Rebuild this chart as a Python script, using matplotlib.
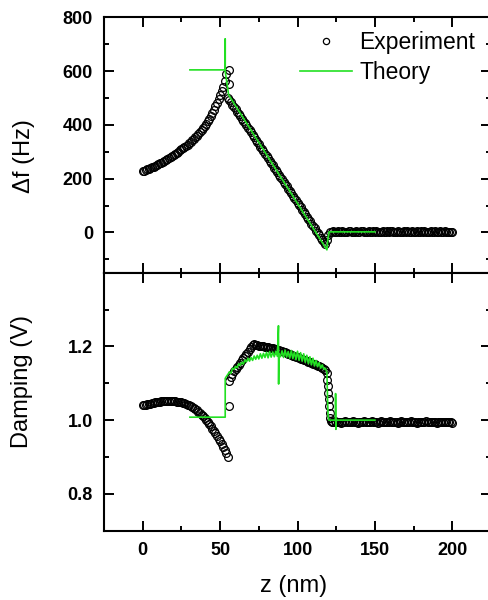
import numpy as np
import matplotlib
matplotlib.use('Agg')
import matplotlib.pyplot as plt
from matplotlib.ticker import MultipleLocator, FixedLocator, FormatStrFormatter

plt.rcParams['font.family'] = ['Liberation Sans', 'DejaVu Sans']

# ---- top panel: frequency shift (Hz) ----
# rising part, z = 0..54 nm
exp_z1 = list(range(0, 55))
exp_df1 = [228, 230, 232, 235, 237, 240, 243, 245, 248, 251,
           254, 257, 260, 263, 266, 270, 274, 277, 281, 285,
           289, 293, 297, 301, 305, 309, 314, 318, 323, 327,
           332, 337, 343, 348, 354, 360, 366, 373, 380, 387,
           395, 404, 413, 423, 434, 445, 457, 469, 482, 496,
           510, 526, 543, 565, 590]
exp_z_jump = [55.5, 56.0]
exp_df_jump = [605, 553]
# falling part, z = 55..118 nm
exp_z2 = list(range(55, 119))
exp_df2 = [502, 493, 485, 476, 467, 459, 450, 441, 432, 424,
           415, 406, 398, 389, 380, 372, 363, 354, 345, 337,
           328, 319, 311, 302, 293, 285, 276, 267, 258, 250,
           241, 232, 224, 215, 206, 198, 189, 180, 171, 163,
           154, 145, 137, 128, 119, 111, 102, 93, 84, 76,
           67, 58, 50, 41, 32, 24, 15, 6, -2, -11,
           -20, -28, -37, -44]
# flat part, z = 119..200 nm
exp_z3 = list(range(119, 201))
exp_df3 = [-28, -8, 2, 3, 4, 2, 3, 5, 3, 2,
           4, 3, 3, 2, 4, 5, 3, 2, 3, 4,
           2, 3, 5, 4, 3, 2, 3, 4, 3, 2,
           4, 3, 5, 3, 2, 3, 4, 3, 2, 4,
           3, 5, 4, 3, 2, 3, 4, 3, 3, 2,
           4, 3, 5, 3, 2, 4, 3, 3, 4, 2,
           3, 4, 3, 5, 3, 2, 3, 4, 3, 2,
           4, 3, 3, 4, 2, 3, 4, 3, 3, 2,
           3, 3]

th_z_top = [30.5, 53.3, 53.3, 53.3, 55.5, 119.0, 119.6, 120.4, 150.0]
th_df_top = [605, 605, 720, 600, 512, -65, -25, 2, 2]

# ---- bottom panel: damping (V) ----
dmp_z1 = list(range(0, 56))
dmp_v1 = [1.040, 1.041, 1.042, 1.043, 1.044, 1.045, 1.046, 1.047, 1.048, 1.049,
          1.050, 1.050, 1.051, 1.051, 1.052, 1.052, 1.052, 1.052, 1.052, 1.052,
          1.051, 1.051, 1.050, 1.050, 1.049, 1.048, 1.047, 1.046, 1.044, 1.042,
          1.040, 1.038, 1.035, 1.033, 1.030, 1.027, 1.023, 1.019, 1.015, 1.011,
          1.006, 1.001, 0.995, 0.989, 0.983, 0.977, 0.970, 0.964, 0.957, 0.950,
          0.943, 0.936, 0.928, 0.920, 0.912, 0.901]
dmp_z_jump = [55.6]
dmp_v_jump = [1.037]
dmp_z2 = list(range(56, 119))
dmp_v2 = [1.107, 1.118, 1.126, 1.133, 1.139, 1.145, 1.150, 1.156, 1.162, 1.168,
          1.174, 1.180, 1.186, 1.192, 1.198, 1.204, 1.207, 1.205, 1.203, 1.202,
          1.201, 1.200, 1.200, 1.199, 1.199, 1.198, 1.197, 1.196, 1.195, 1.194,
          1.192, 1.191, 1.190, 1.188, 1.187, 1.185, 1.184, 1.182, 1.180, 1.179,
          1.177, 1.175, 1.173, 1.172, 1.170, 1.168, 1.166, 1.165, 1.163, 1.162,
          1.160, 1.158, 1.157, 1.155, 1.153, 1.152, 1.150, 1.148, 1.146, 1.144,
          1.142, 1.139, 1.136]
dmp_z3 = [119, 119.3, 119.6, 119.9, 120.2, 120.5, 120.8, 121.2, 121.6]
dmp_v3 = [1.128, 1.110, 1.092, 1.074, 1.056, 1.038, 1.020, 1.006, 0.998]
dmp_z4 = list(range(122, 201))
dmp_v4 = [0.996, 0.995, 0.997, 0.994, 0.996, 0.995, 0.993, 0.996, 0.995, 0.997,
          0.994, 0.995, 0.996, 0.994, 0.997, 0.995, 0.996, 0.993, 0.995, 0.996,
          0.994, 0.997, 0.995, 0.994, 0.996, 0.995, 0.997, 0.994, 0.995, 0.996,
          0.993, 0.995, 0.997, 0.996, 0.994, 0.995, 0.996, 0.994, 0.997, 0.995,
          0.994, 0.996, 0.995, 0.993, 0.996, 0.997, 0.994, 0.995, 0.996, 0.994,
          0.995, 0.997, 0.994, 0.996, 0.995, 0.993, 0.996, 0.995, 0.994, 0.996,
          0.995, 0.997, 0.994, 0.995, 0.996, 0.994, 0.995, 0.996, 0.993, 0.995,
          0.996, 0.994, 0.995, 0.996, 0.994, 0.995, 0.994, 0.995, 0.993]

th_bot_z_a = [30.5, 53.3, 53.3]
th_bot_v_a = [1.008, 1.008, 1.113]
th_bot_z_b = list(range(54, 88))
th_bot_v_b = [1.118, 1.124, 1.131, 1.127, 1.141, 1.138, 1.146, 1.142, 1.153, 1.149,
              1.157, 1.152, 1.163, 1.158, 1.168, 1.160, 1.170, 1.162, 1.174, 1.165,
              1.176, 1.166, 1.180, 1.168, 1.181, 1.170, 1.184, 1.169, 1.186, 1.171,
              1.185, 1.172, 1.187, 1.173]
th_bot_z_spike = [87.7, 87.8]
th_bot_v_spike = [1.256, 1.098]
th_bot_z_c = list(range(88, 120))
th_bot_v_c = [1.180, 1.172, 1.188, 1.170, 1.190, 1.171, 1.186, 1.168, 1.189, 1.167,
              1.185, 1.164, 1.187, 1.162, 1.183, 1.160, 1.180, 1.157, 1.176, 1.153,
              1.172, 1.150, 1.168, 1.147, 1.162, 1.145, 1.156, 1.141, 1.150, 1.138,
              1.141, 1.130]
th_bot_z_d = [119.4, 119.8, 120.3, 124.5, 124.6, 124.8, 125.0, 150.0]
th_bot_v_d = [1.060, 1.010, 1.000, 1.000, 1.072, 0.975, 1.000, 1.000]

green = '#22e022'
mkw = dict(ls='none', marker='o', ms=5.6, mfc='none', mec='black', mew=0.9)

fig = plt.figure(figsize=(4.88, 6.0), dpi=100)
ax1 = fig.add_axes([104/488, 1-272.7/600, 387/488, (272.7-17.5)/600])
ax2 = fig.add_axes([104/488, 1-530.7/600, 387/488, 258/600])

# top
ax1.plot(exp_z1 + exp_z_jump + exp_z2 + exp_z3,
         exp_df1 + exp_df_jump + exp_df2 + exp_df3, label='Experiment', **mkw)
ax1.plot(th_z_top, th_df_top, color=green, lw=1.2, label='Theory')
ax1.set_ylim(-150, 800)
ax1.yaxis.set_major_locator(MultipleLocator(200))
ax1.yaxis.set_minor_locator(MultipleLocator(100))
ax1.tick_params(axis='x', labelbottom=False)

# bottom
ax2.plot(dmp_z1 + dmp_z_jump + dmp_z2 + dmp_z3 + dmp_z4,
         dmp_v1 + dmp_v_jump + dmp_v2 + dmp_v3 + dmp_v4, **mkw)
ax2.plot(th_bot_z_a + th_bot_z_b + th_bot_z_spike + th_bot_z_c + th_bot_z_d,
         th_bot_v_a + th_bot_v_b + th_bot_v_spike + th_bot_v_c + th_bot_v_d,
         color=green, lw=1.2)
ax2.set_ylim(0.7, 1.4)
ax2.yaxis.set_major_locator(FixedLocator([0.8, 1.0, 1.2]))
ax2.yaxis.set_minor_locator(FixedLocator([0.9, 1.1, 1.3]))
ax2.yaxis.set_major_formatter(FormatStrFormatter('%.1f'))

for ax in (ax1, ax2):
    ax.set_xlim(-25, 225)
    ax.xaxis.set_major_locator(MultipleLocator(50))
    ax.xaxis.set_minor_locator(MultipleLocator(25))
    ax.tick_params(which='both', direction='in', top=True, right=True, width=1.4)
    ax.tick_params(which='major', length=7.5, pad=8, labelsize=13)
    ax.tick_params(which='minor', length=3.8)
    for s in ax.spines.values():
        s.set_linewidth(1.5)
    for lab in ax.get_xticklabels() + ax.get_yticklabels():
        lab.set_fontweight('bold')

fig.text(24/488, 1-156/600, '\u0394f (Hz)', rotation=90, ha='center', va='center', fontsize=17)
fig.text(22/488, 1-382/600, 'Damping (V)', rotation=90, ha='center', va='center', fontsize=17)
fig.text(294/488, 1-586/600, 'z (nm)', ha='center', va='center', fontsize=17)

ax1.legend(loc='upper left', bbox_to_anchor=(300/488, 1-31/600), bbox_transform=fig.transFigure,
           frameon=False, fontsize=16.5, borderpad=0, borderaxespad=0, handlelength=2.25,
           handletextpad=0.35, labelspacing=0.3, numpoints=1, markerscale=0.8)

fig.savefig('out.png', dpi=100)
